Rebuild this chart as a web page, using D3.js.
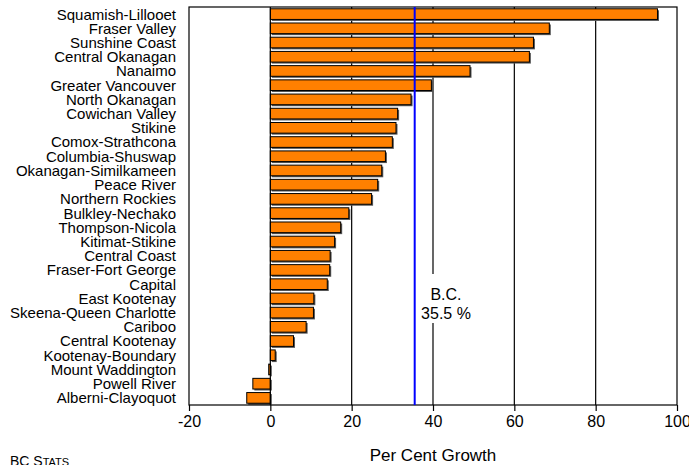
<!DOCTYPE html>
<html>
<head>
<meta charset="utf-8">
<script src="https://cdn.jsdelivr.net/npm/d3@7"></script>
<style>
  body { margin: 0; background: #fff; }
  text { font-family: "Liberation Sans", Arial, sans-serif; fill: #000; }
</style>
</head>
<body>
<div id="chart"></div>
<script>
// regional districts and their per cent growth
var regions = ["Squamish-Lillooet", "Fraser Valley", "Sunshine Coast", "Central Okanagan", "Nanaimo",
  "Greater Vancouver", "North Okanagan", "Cowichan Valley", "Stikine", "Comox-Strathcona",
  "Columbia-Shuswap", "Okanagan-Similkameen", "Peace River", "Northern Rockies", "Bulkley-Nechako",
  "Thompson-Nicola", "Kitimat-Stikine", "Central Coast", "Fraser-Fort George", "Capital",
  "East Kootenay", "Skeena-Queen Charlotte", "Cariboo", "Central Kootenay", "Kootenay-Boundary",
  "Mount Waddington", "Powell River", "Alberni-Clayoquot"];
var growth = [95.2, 68.6, 64.7, 63.7, 49.1, 39.6, 34.6, 31.3, 30.9, 30.0,
  28.3, 27.4, 26.4, 24.9, 19.3, 17.3, 15.8, 14.7, 14.6, 14.0,
  10.7, 10.6, 8.8, 5.7, 1.2, -0.4, -4.3, -5.8];
var bcTotal = 35.5;
var xTicks = [-20, 0, 20, 40, 60, 80, 100];

var width = 689, height = 465;
var plotLeft = 189, plotRight = 677, plotTop = 7, plotBottom = 405;

var svg = d3.select("#chart").append("svg").attr("width", width).attr("height", height);

var x = d3.scaleLinear().domain([-20, 100]).range([plotLeft, plotRight]);
var y = d3.scaleBand().domain(regions).range([plotTop, plotBottom]).paddingInner(0.25).paddingOuter(0.125);

// gridlines
svg.selectAll(".grid").data([20, 40, 60, 80]).enter().append("line")
  .attr("x1", function(d) { return x(d); }).attr("x2", function(d) { return x(d); })
  .attr("y1", plotTop).attr("y2", plotBottom)
  .attr("stroke", "#000").attr("stroke-width", 1.2);

var data = regions.map(function(r, i) { return { name: r, value: growth[i] }; });

// bar shadows
svg.selectAll(".shadow").data(data).enter().append("rect")
  .attr("x", function(d) { return Math.min(x(0), x(d.value)) + 1.5; })
  .attr("y", function(d) { return y(d.name) + 1.5; })
  .attr("width", function(d) { return Math.abs(x(d.value) - x(0)); })
  .attr("height", y.bandwidth())
  .attr("fill", "#555");

// bars
svg.selectAll(".bar").data(data).enter().append("rect")
  .attr("x", function(d) { return Math.min(x(0), x(d.value)); })
  .attr("y", function(d) { return y(d.name); })
  .attr("width", function(d) { return Math.abs(x(d.value) - x(0)); })
  .attr("height", y.bandwidth())
  .attr("fill", "#ff8000").attr("stroke", "#000").attr("stroke-width", 1);

// zero line
svg.append("line").attr("x1", x(0)).attr("x2", x(0)).attr("y1", plotTop).attr("y2", plotBottom)
  .attr("stroke", "#000").attr("stroke-width", 1.2);

// frame
svg.append("rect").attr("x", plotLeft).attr("y", plotTop).attr("width", plotRight - plotLeft).attr("height", plotBottom - plotTop)
  .attr("fill", "none").attr("stroke", "#000").attr("stroke-width", 1.2);

// B.C. label with white box
var lblX = 446;
svg.append("rect").attr("x", lblX - 26).attr("y", 274).attr("width", 52).attr("height", 49).attr("fill", "#fff");
svg.append("text").attr("x", lblX).attr("y", 300).attr("text-anchor", "middle").style("font-size", "16px").text("B.C.");
svg.append("text").attr("x", lblX).attr("y", 319).attr("text-anchor", "middle").style("font-size", "16px").text(bcTotal + " %");

// B.C. average line
svg.append("line").attr("x1", x(bcTotal)).attr("x2", x(bcTotal)).attr("y1", plotTop).attr("y2", plotBottom)
  .attr("stroke", "#0000ff").attr("stroke-width", 2);

// x axis
var xAxis = svg.append("g").attr("transform", "translate(0," + plotBottom + ")")
  .call(d3.axisBottom(x).tickValues(xTicks).tickFormat(function(d) { return String(d); })
    .tickSize(6).tickPadding(5).tickSizeOuter(0));
xAxis.select(".domain").remove();
xAxis.selectAll("line").attr("stroke", "#000").attr("stroke-width", 1.2);
xAxis.selectAll("text").style("font-size", "16px").style("font-family", "Liberation Sans, Arial, sans-serif");

// category labels
svg.selectAll(".lbl").data(regions).enter().append("text")
  .attr("x", 176).attr("y", function(d) { return y(d) + y.bandwidth() / 2; })
  .attr("dy", "0.36em").attr("text-anchor", "end").style("font-size", "15px")
  .text(function(d) { return d; });

// axis title
svg.append("text").attr("x", (plotLeft + plotRight) / 2).attr("y", 461).attr("text-anchor", "middle")
  .style("font-size", "17px").text("Per Cent Growth");

// source
var src = svg.append("text").attr("x", 10).attr("y", 466).style("font-size", "14px");
src.append("tspan").text("BC S");
src.append("tspan").style("font-size", "11px").text("TATS");
</script>
</body>
</html>
